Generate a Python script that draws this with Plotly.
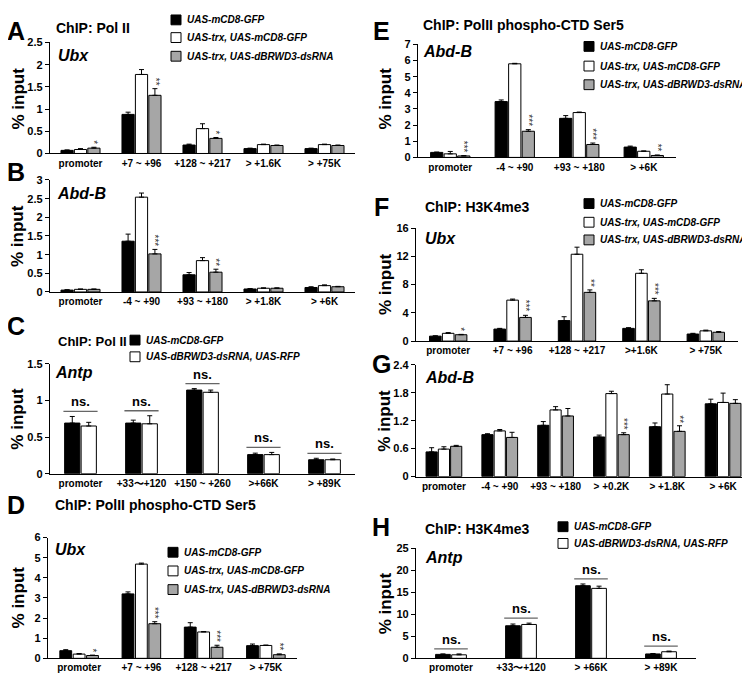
import plotly.graph_objects as go

# ---------------- DATA ----------------
LEG3 = ["UAS-mCD8-GFP", "UAS-trx, UAS-mCD8-GFP", "UAS-trx, UAS-dBRWD3-dsRNA"]
LEG2 = ["UAS-mCD8-GFP", "UAS-dBRWD3-dsRNA, UAS-RFP"]

# A: ChIP Pol II, Ubx
A_cats = ["promoter", "+7 ~ +96", "+128 ~ +217", "> +1.6K", "> +75K"]
A_gfp = [0.07, 0.88, 0.19, 0.11, 0.11]
A_gfp_err = [0.01, 0.05, 0.02, 0.01, 0.01]
A_trx = [0.09, 1.78, 0.56, 0.20, 0.20]
A_trx_err = [0.02, 0.11, 0.11, 0.01, 0.01]
A_kd = [0.12, 1.31, 0.34, 0.18, 0.18]
A_kd_err = [0.02, 0.15, 0.02, 0.01, 0.01]
A_sig = ["*", "**", "*", "", ""]

# B: ChIP Pol II, Abd-B
B_cats = ["promoter", "-4 ~ +90", "+93 ~ +180", "> +1.8K", "> +6K"]
B_gfp = [0.05, 1.36, 0.46, 0.08, 0.12]
B_gfp_err = [0.01, 0.19, 0.06, 0.01, 0.02]
B_trx = [0.07, 2.54, 0.84, 0.10, 0.17]
B_trx_err = [0.01, 0.11, 0.08, 0.01, 0.02]
B_kd = [0.07, 1.02, 0.53, 0.10, 0.14]
B_kd_err = [0.01, 0.12, 0.08, 0.01, 0.01]
B_sig = ["", "***", "**", "", ""]

# C: ChIP Pol II, Antp
C_cats = ["promoter", "+33〜+120", "+150 ~ +260", ">+66K", "> +89K"]
C_gfp = [0.69, 0.69, 1.14, 0.26, 0.19]
C_gfp_err = [0.09, 0.04, 0.02, 0.02, 0.02]
C_kd = [0.65, 0.68, 1.11, 0.26, 0.19]
C_kd_err = [0.05, 0.11, 0.03, 0.03, 0.01]
C_sig = ["ns.", "ns.", "ns.", "ns.", "ns."]

# D: ChIP PolII phospho-CTD Ser5, Ubx
D_cats = ["promoter", "+7 ~ +96", "+128 ~ +217", "> +75K"]
D_gfp = [0.38, 3.20, 1.55, 0.63]
D_gfp_err = [0.05, 0.10, 0.22, 0.08]
D_trx = [0.21, 4.68, 1.31, 0.64]
D_trx_err = [0.03, 0.05, 0.02, 0.02]
D_kd = [0.14, 1.72, 0.55, 0.18]
D_kd_err = [0.02, 0.10, 0.10, 0.04]
D_sig = ["*", "***", "***", "**"]

# E: ChIP PolII phospho-CTD Ser5, Abd-B
E_cats = ["promoter", "-4 ~ +90", "+93 ~ +180", "> +6K"]
E_gfp = [0.31, 3.46, 2.42, 0.64]
E_gfp_err = [0.02, 0.10, 0.17, 0.06]
E_trx = [0.22, 5.80, 2.78, 0.38]
E_trx_err = [0.15, 0.03, 0.03, 0.02]
E_kd = [0.09, 1.62, 0.80, 0.12]
E_kd_err = [0.02, 0.10, 0.09, 0.03]
E_sig = ["***", "***", "***", "**"]

# F: ChIP H3K4me3, Ubx
F_cats = ["promoter", "+7 ~ +96", "+128 ~ +217", ">+1.6K", "> +75K"]
F_gfp = [0.7, 1.7, 2.9, 1.8, 1.0]
F_gfp_err = [0.05, 0.1, 0.55, 0.1, 0.1]
F_trx = [1.1, 5.8, 12.3, 9.6, 1.45]
F_trx_err = [0.1, 0.15, 1.0, 0.5, 0.1]
F_kd = [0.9, 3.35, 6.9, 5.7, 1.25]
F_kd_err = [0.05, 0.3, 0.35, 0.35, 0.1]
F_sig = ["*", "***", "**", "***", ""]

# G: ChIP H3K4me3, Abd-B
G_cats = ["promoter", "-4 ~ +90", "+93 ~ +180", "> +0.2K", "> +1.8K", "> +6K"]
G_gfp = [0.53, 0.90, 1.10, 0.85, 1.07, 1.56]
G_gfp_err = [0.09, 0.02, 0.08, 0.04, 0.08, 0.10]
G_trx = [0.59, 0.98, 1.43, 1.78, 1.77, 1.59]
G_trx_err = [0.05, 0.03, 0.07, 0.05, 0.20, 0.20]
G_kd = [0.65, 0.84, 1.30, 0.90, 0.97, 1.57]
G_kd_err = [0.02, 0.11, 0.16, 0.04, 0.12, 0.08]
G_sig = ["", "", "", "***", "**", ""]

# H: ChIP H3K4me3, Antp
H_cats = ["promoter", "+33〜+120", "> +66K", "> +89K"]
H_gfp = [0.9, 7.4, 16.5, 1.0]
H_gfp_err = [0.1, 0.4, 0.4, 0.1]
H_kd = [0.8, 7.7, 15.9, 1.5]
H_kd_err = [0.2, 0.3, 0.5, 0.15]
H_sig = ["ns.", "ns.", "ns.", "ns."]

A_ticks = [0, 0.5, 1, 1.5, 2, 2.5]
B_ticks = [0, 0.5, 1, 1.5, 2, 2.5, 3]
C_ticks = [0, 0.5, 1, 1.5]
D_ticks = [0, 1, 2, 3, 4, 5, 6]
E_ticks = [0, 1, 2, 3, 4, 5, 6, 7]
F_ticks = [0, 4, 8, 12, 16]
G_ticks = [0, 0.6, 1.2, 1.8, 2.4]
H_ticks = [0, 5, 10, 15, 20, 25]

# ---------------- STYLE / LAYOUT ----------------
W, H = 750, 675
FONT = "Liberation Sans, Arial, sans-serif"
COL3 = ["#000000", "#ffffff", "#a6a6a6"]
COL2 = ["#000000", "#ffffff"]


def px(x):
    return x / W


def py(y):
    return 1 - y / H


panels = [
    dict(cats=A_cats, series=[(A_gfp, A_gfp_err), (A_trx, A_trx_err), (A_kd, A_kd_err)], sig=A_sig,
         ticks=A_ticks, box=(42, 347, 29, 142), w=0.2, s=0.22),
    dict(cats=B_cats, series=[(B_gfp, B_gfp_err), (B_trx, B_trx_err), (B_kd, B_kd_err)], sig=B_sig,
         ticks=B_ticks, box=(42, 347, 169, 283), w=0.2, s=0.22),
    dict(cats=C_cats, series=[(C_gfp, C_gfp_err), (C_kd, C_kd_err)], sig=C_sig,
         ticks=C_ticks, box=(42, 347, 356, 468), w=0.25, s=0.27),
    dict(cats=D_cats, series=[(D_gfp, D_gfp_err), (D_trx, D_trx_err), (D_kd, D_kd_err)], sig=D_sig,
         ticks=D_ticks, box=(40, 289, 533, 656), w=0.19, s=0.215),
    dict(cats=E_cats, series=[(E_gfp, E_gfp_err), (E_trx, E_trx_err), (E_kd, E_kd_err)], sig=E_sig,
         ticks=E_ticks, box=(410, 668, 31, 146), w=0.19, s=0.21),
    dict(cats=F_cats, series=[(F_gfp, F_gfp_err), (F_trx, F_trx_err), (F_kd, F_kd_err)], sig=F_sig,
         ticks=F_ticks, box=(408, 730, 218, 333), w=0.18, s=0.20),
    dict(cats=G_cats, series=[(G_gfp, G_gfp_err), (G_trx, G_trx_err), (G_kd, G_kd_err)], sig=G_sig,
         ticks=G_ticks, box=(408, 743, 357, 471), w=0.2, s=0.22),
    dict(cats=H_cats, series=[(H_gfp, H_gfp_err), (H_kd, H_kd_err)], sig=H_sig,
         ticks=H_ticks, box=(408, 688, 544, 656), w=0.21, s=0.23),
]

fig = go.Figure()
annotations = []
shapes = []

for k, p in enumerate(panels, start=1):
    xa = "x" if k == 1 else f"x{k}"
    ya = "y" if k == 1 else f"y{k}"
    xkey = "xaxis" if k == 1 else f"xaxis{k}"
    ykey = "yaxis" if k == 1 else f"yaxis{k}"
    n = len(p["series"])
    cols = COL3 if n == 3 else COL2
    w, s = p["w"], p["s"]
    for i, (vals, errs) in enumerate(p["series"]):
        center = (i - (n - 1) / 2) * s
        fig.add_trace(go.Bar(
            x=p["cats"], y=vals, xaxis=xa, yaxis=ya,
            width=w, offset=center - w / 2,
            marker=dict(color=cols[i], line=dict(color="black", width=1)),
            error_y=dict(type="data", symmetric=False, array=errs, arrayminus=[0] * len(errs),
                         color="black", thickness=1, width=2.5),
            showlegend=False, hoverinfo="skip",
        ))
    for j, mark in enumerate(p["sig"]):
        if not mark:
            continue
        if mark == "ns.":
            top = max(v[j] + e[j] for v, e in p["series"])
            half = s / 2 + w / 2 + 0.02
            shapes.append(dict(type="line", xref=xa, yref=ya, x0=j - half, x1=j + half,
                               ysizemode="pixel", yanchor=top, y0=5, y1=5,
                               line=dict(color="#666666", width=1.3)))
            annotations.append(dict(text="<b>ns.</b>", xref=xa, yref=ya, x=j, y=top,
                                    yanchor="bottom", yshift=5, showarrow=False,
                                    font=dict(family=FONT, size=13, color="black")))
        else:
            vals, errs = p["series"][-1]
            center = (n - 1 - (n - 1) / 2) * s
            annotations.append(dict(text=mark, xref=xa, yref=ya, x=j + center, y=vals[j] + errs[j],
                                    yanchor="bottom", xanchor="center", yshift=1, textangle=90,
                                    showarrow=False,
                                    font=dict(family=FONT, size=10, color="#333333")))
    x0, x1, yt, yb = p["box"]
    top = p["ticks"][-1]
    fig.layout[xkey] = dict(domain=[px(x0), px(x1)], anchor=ya, type="category",
                            range=[-0.5, len(p["cats"]) - 0.5], showline=True, linecolor="black",
                            linewidth=1.3, ticks="", showgrid=False, zeroline=False, fixedrange=True,
                            tickfont=dict(family=FONT, size=10, color="black", weight="bold"))
    fig.layout[ykey] = dict(domain=[py(yb), py(yt)], anchor=xa, range=[0, top],
                            tickvals=p["ticks"], ticktext=[f"{t:g}" for t in p["ticks"]],
                            showline=True, linecolor="black", linewidth=1.3, ticks="outside",
                            ticklen=4, tickcolor="black", showgrid=False, zeroline=False,
                            fixedrange=True,
                            tickfont=dict(family=FONT, size=11, color="black", weight="bold"))


def txt(x, y, text, size, xanchor="left", angle=0, color="black"):
    annotations.append(dict(text=text, xref="paper", yref="paper", x=px(x), y=py(y),
                            xanchor=xanchor, yanchor="middle", showarrow=False, textangle=angle,
                            font=dict(family=FONT, size=size, color=color)))


# Panel letters
for letter, (lx, ly) in zip("ABCDEFGH", [(8, 17), (8, 161), (8, 318), (8, 500),
                                         (373, 17), (373, 196), (373, 356), (373, 522)]):
    txt(lx, ly, f"<b>{letter}</b>", 25, xanchor="center")

# Y-axis titles
for (lx, ly) in [(10, 86), (10, 226), (10, 412), (10, 594),
                 (377, 86), (377, 275), (377, 414), (377, 600)]:
    txt(lx, ly, "<b>% input</b>", 17, xanchor="center", angle=-90)

# Titles
txt(46, 14, "<b>ChIP: Pol II</b>", 14)
txt(48, 333, "<b>ChIP: Pol II</b>", 13)
txt(45, 500, "<b>ChIP: PolII phospho-CTD Ser5</b>", 14)
txt(413, 11, "<b>ChIP: PolII phospho-CTD Ser5</b>", 14)
txt(415, 197, "<b>ChIP: H3K4me3</b>", 14)
txt(415, 524, "<b>ChIP: H3K4me3</b>", 14)

# Gene names
for gx, gy, g in [(48, 42, "Ubx"), (47, 183, "Abd-B"), (45, 365, "Antp"), (45, 545, "Ubx"),
                  (413, 38, "Abd-B"), (415, 229, "Ubx"), (415, 370, "Abd-B"), (415, 553, "Antp")]:
    txt(gx, gy, f"<b><i>{g}</i></b>", 16)


def legend(bx, rows, labels, cols):
    for ry, lab, c in zip(rows, labels, cols):
        shapes.append(dict(type="rect", xref="paper", yref="paper",
                           x0=px(bx), x1=px(bx + 10), y0=py(ry + 5), y1=py(ry - 5),
                           fillcolor=c, line=dict(color="black", width=1)))
        txt(bx + 14, ry, f"<b><i>{lab}</i></b>", 10)


legend(163, [6, 24, 43], LEG3, COL3)
legend(122, [332, 349], LEG2, COL2)
legend(160, [548, 567, 586], LEG3, COL3)
legend(576, [33, 53, 72], LEG3, COL3)
legend(576, [193, 212, 230], LEG3, COL3)
legend(550, [522, 539], LEG2, COL2)

fig.update_layout(
    width=W, height=H, margin=dict(l=0, r=0, t=0, b=0),
    paper_bgcolor="white", plot_bgcolor="white", barmode="overlay",
    annotations=annotations, shapes=shapes, showlegend=False,
    font=dict(family=FONT, color="black"),
)

fig.write_html("out.html")
